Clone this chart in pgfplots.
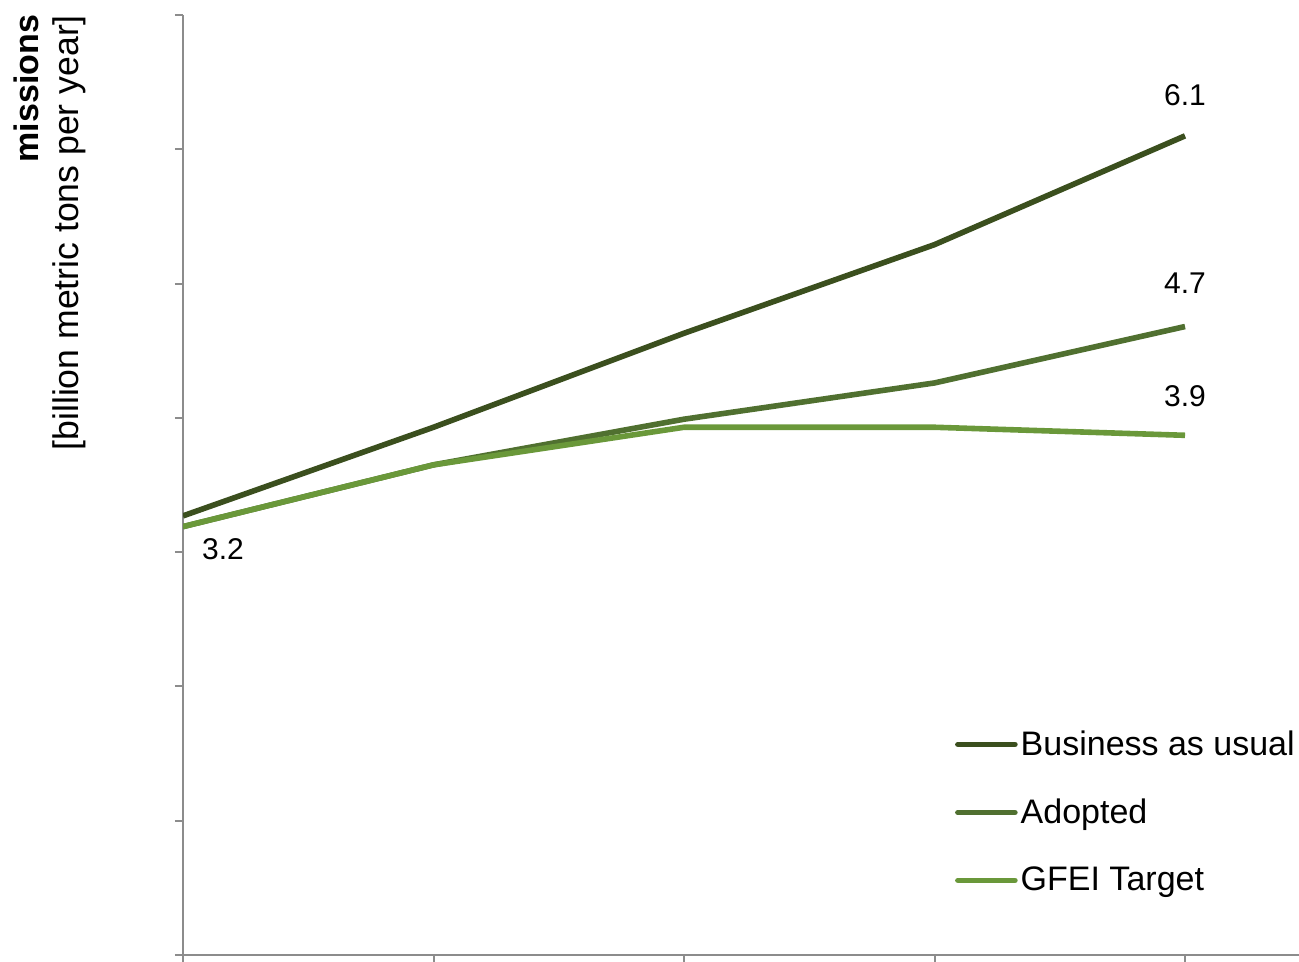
\documentclass[border=0pt]{standalone}
\usepackage{pgfplots}
\pgfplotsset{compat=1.18}
\usepackage{fontspec}
\setmainfont{Liberation Sans}
\definecolor{bau}{HTML}{3B4F1E}
\definecolor{adopted}{HTML}{507030}
\definecolor{gfei}{HTML}{6A983A}
\definecolor{axgray}{HTML}{8C8C8C}
\begin{document}
\begin{tikzpicture}
\begin{axis}[
  at={(0pt,0pt)}, anchor=south west,
  scale only axis, width=558pt, height=470pt,
  xmin=0, xmax=4.455, ymin=0, ymax=7,
  axis lines*=left,
  axis line style={axgray, line width=1pt},
  xtick={0,1,2,3,4}, ytick={0,1,2,3,4,5,6,7},
  xticklabels={}, yticklabels={},
  tick align=outside, major tick length=4pt,
  tick style={axgray, line width=1pt},
  legend style={draw=none, fill=none, at={(0.6915,0.2435)}, anchor=north west,
    font=\fontsize{17}{20}\selectfont, row sep=16.3pt, inner sep=0pt,
    nodes={inner xsep=1.5pt}},
  legend cell align=left,
  legend image code/.code={\draw[#1, line width=2.8pt, line cap=round] (0pt,0pt) -- (28.5pt,0pt);},
  every axis plot/.append style={line width=2.8pt, line join=round},
]
\addplot[bau] coordinates {(0,3.27) (1,3.93) (2,4.63) (3,5.29) (4,6.10)};
\addlegendentry{Business as usual}
\addplot[adopted] coordinates {(0,3.19) (1,3.65) (2,3.99) (3,4.26) (4,4.68)};
\addlegendentry{Adopted}
\addplot[gfei] coordinates {(0,3.19) (1,3.65) (2,3.93) (3,3.93) (4,3.87)};
\addlegendentry{GFEI Target}
\node[font=\fontsize{15}{18}\selectfont] at (axis cs:4,6.40) {6.1};
\node[font=\fontsize{15}{18}\selectfont] at (axis cs:4,5.00) {4.7};
\node[font=\fontsize{15}{18}\selectfont] at (axis cs:4,4.16) {3.9};
\node[font=\fontsize{15}{18}\selectfont] at (axis cs:0.16,3.02) {3.2};
\end{axis}
\node[rotate=90, anchor=east, font=\fontsize{17}{20}\selectfont\bfseries] at (-78.5pt,473.5pt) {missions};
\node[rotate=90, anchor=east, font=\fontsize{17.8}{20}\selectfont] at (-57pt,473.5pt) {[billion metric tons per year]};
\pgfresetboundingbox
\path (-91.5pt,-3.5pt) rectangle (558pt,477.5pt);
\end{tikzpicture}
\end{document}
